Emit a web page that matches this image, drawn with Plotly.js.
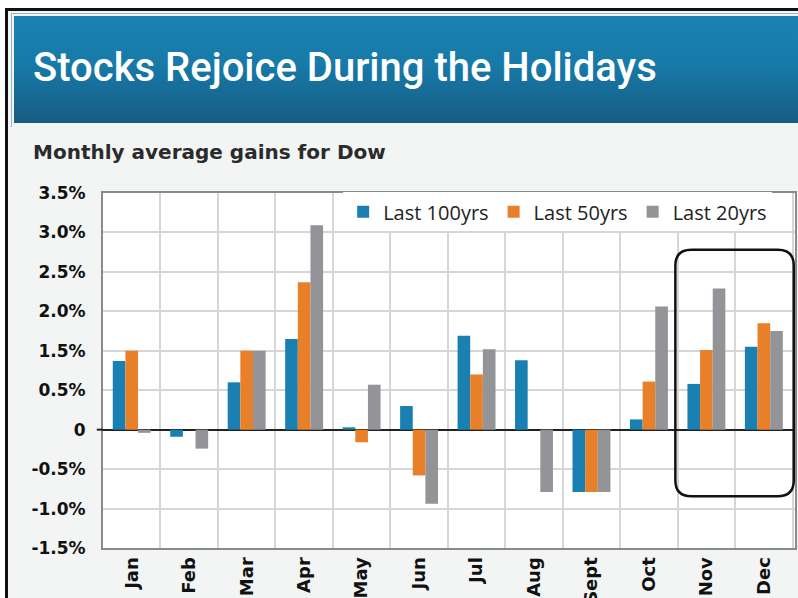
<!DOCTYPE html>
<html>
<head>
<meta charset="utf-8">
<script src="https://cdn.plot.ly/plotly-3.0.1.min.js"></script>
<style>
  html, body { margin: 0; padding: 0; background: #ffffff; }
  #wrap { position: relative; width: 798px; height: 598px; overflow: hidden; }
  #frame { position: absolute; left: 5px; top: 8px; width: 800px; height: 600px;
           border-top: 3px solid #111; border-left: 3px solid #111; background: #f3f5f5; }
  #bandline { position: absolute; left: 11px; top: 13px; width: 800px; height: 113px;
              border-top: 1px solid #8fb8cf; border-left: 1px solid #8fb8cf; }
  #band { position: absolute; left: 14px; top: 16px; width: 790px; height: 107px;
          background: linear-gradient(to bottom, #1a82b3 0%, #177aa8 45%, #165c82 100%); }
  #chart { position: absolute; left: 0; top: 0; width: 798px; height: 598px; }
</style>
</head>
<body>
<div id="wrap">
  <div id="frame"></div>
  <div id="bandline"></div>
  <div id="band"></div>
  <div id="chart"></div>
</div>
<script>
// Months (categories)
var months = ['Jan','Feb','Mar','Apr','May','Jun','Jul','Aug','Sept','Oct','Nov','Dec'];

// Values, in the chart's own gridline units
// (gridlines are evenly spaced 0.5 apart; the printed labels skip "1.0%")
var last100 = [0.87, -0.09, 0.60, 1.15, 0.03, 0.30, 1.19, 0.88, -0.79, 0.13, 0.58, 1.05];
var last50  = [1.00,  0.00, 1.00, 1.87, -0.16, -0.58, 0.70, 0.00, -0.79, 0.61, 1.01, 1.35];
var last20  = [-0.04, -0.24, 1.00, 2.59, 0.57, -0.94, 1.02, -0.79, -0.79, 1.56, 1.79, 1.25];

// Y tick positions and the labels printed on the original chart
var yTickVals = [-1.5, -1.0, -0.5, 0, 0.5, 1.0, 1.5, 2.0, 2.5, 3.0];
var yTickText = ['-1.5%', '-1.0%', '-0.5%', '0', '0.5%', '1.5%', '2.0%', '2.5%', '3.0%', '3.5%'];

var seriesNames = ['Last 100yrs', 'Last 50yrs', 'Last 20yrs'];
var seriesColors = ['#1a80b2', '#e8802a', '#939497'];

var traces = [last100, last50, last20].map(function (vals, i) {
  return {
    type: 'bar',
    name: seriesNames[i],
    x: months,
    y: vals,
    marker: { color: seriesColors[i], line: { width: 0 } },
    hoverinfo: 'x+y+name'
  };
});

// Rounded highlight box around Nov-Dec (category index units / y units)
var bx0 = 9.46, bx1 = 11.52, by0 = -0.845, by1 = 2.28, rx = 0.28, ry = 0.2;
var boxPath = 'M' + (bx0 + rx) + ',' + by1 +
  ' L' + (bx1 - rx) + ',' + by1 +
  ' Q' + bx1 + ',' + by1 + ' ' + bx1 + ',' + (by1 - ry) +
  ' L' + bx1 + ',' + (by0 + ry) +
  ' Q' + bx1 + ',' + by0 + ' ' + (bx1 - rx) + ',' + by0 +
  ' L' + (bx0 + rx) + ',' + by0 +
  ' Q' + bx0 + ',' + by0 + ' ' + bx0 + ',' + (by0 + ry) +
  ' L' + bx0 + ',' + (by1 - ry) +
  ' Q' + bx0 + ',' + by1 + ' ' + (bx0 + rx) + ',' + by1 + ' Z';

var layout = {
  width: 798,
  height: 598,
  paper_bgcolor: 'rgba(0,0,0,0)',
  plot_bgcolor: '#ffffff',
  margin: { l: 103, r: 3, t: 193, b: 50, pad: 0 },
  barmode: 'group',
  bargap: 0.34,
  bargroupgap: 0,
  title: {
    text: 'Stocks Rejoice During the Holidays',
    x: 33 / 798, xanchor: 'left', xref: 'container',
    y: 1 - 67 / 598, yanchor: 'middle', yref: 'container',
    font: { family: 'Roboto, "Liberation Sans", sans-serif', size: 40, color: '#ffffff', weight: 500 }
  },
  xaxis: {
    type: 'category',
    tickson: 'boundaries',
    showgrid: true,
    gridcolor: '#d6d6d6',
    gridwidth: 1.5,
    showline: true,
    linecolor: '#8a8a8a',
    linewidth: 2,
    mirror: true,
    ticks: '',
    tickangle: -90,
    tickfont: { family: '"DejaVu Sans", sans-serif', size: 18, color: '#111', weight: 'bold' },
    fixedrange: true
  },
  yaxis: {
    range: [-1.5, 3.0],
    tickmode: 'array',
    tickvals: yTickVals,
    ticktext: yTickText,
    showgrid: true,
    gridcolor: '#d6d6d6',
    gridwidth: 1.5,
    zeroline: true,
    zerolinecolor: '#222',
    zerolinewidth: 2,
    showline: true,
    linecolor: '#8a8a8a',
    linewidth: 2,
    mirror: true,
    ticks: '',
    ticklabelstandoff: 12,
    tickfont: { family: '"DejaVu Sans", sans-serif', size: 17, color: '#111', weight: 'bold' },
    fixedrange: true
  },
  legend: {
    orientation: 'h',
    x: 0.967, xanchor: 'right',
    y: 0.947, yanchor: 'middle',
    bgcolor: '#ffffff',
    font: { family: '"Open Sans", sans-serif', size: 20, color: '#222' },
    itemwidth: 30,
    traceorder: 'normal'
  },
  annotations: [{
    text: 'Monthly average gains for Dow',
    xref: 'paper', yref: 'paper',
    x: (31 - 103) / 692, xanchor: 'left',
    y: (548 - 152) / 355, yanchor: 'middle',
    showarrow: false,
    font: { family: '"DejaVu Sans", sans-serif', size: 20, color: '#2b2b2b', weight: 'bold' }
  }],
  shapes: [
    { type: 'line', xref: 'paper', yref: 'y', x0: -0.009, x1: 0, y0: 0, y1: 0,
      line: { color: '#222', width: 2 } },
    { type: 'path', xref: 'x', yref: 'y', path: boxPath,
      line: { color: '#111', width: 2.5 }, fillcolor: 'rgba(0,0,0,0)', layer: 'above' }
  ],
  hovermode: 'closest'
};

Plotly.newPlot('chart', traces, layout, { displayModeBar: false, staticPlot: false });
</script>
</body>
</html>
